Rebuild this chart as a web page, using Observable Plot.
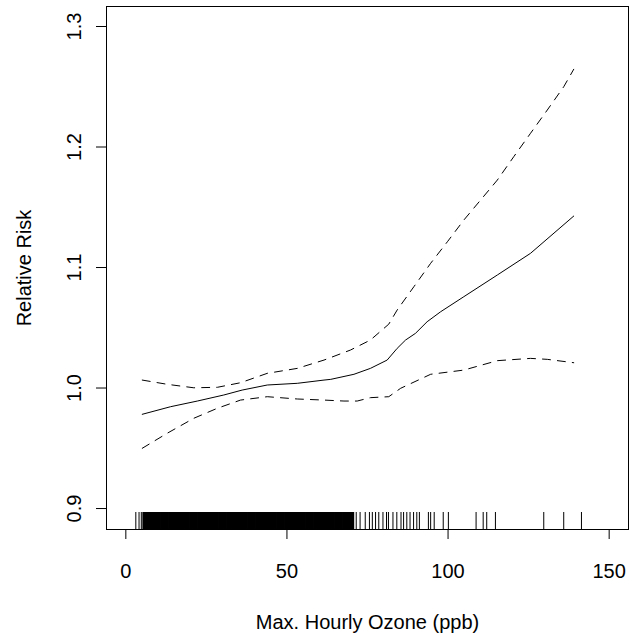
<!DOCTYPE html>
<html><head><meta charset="utf-8">
<script src="https://cdn.jsdelivr.net/npm/d3@7"></script>
<script src="https://cdn.jsdelivr.net/npm/@observablehq/plot@0.6"></script>
<style>body{margin:0;background:#fff} #chart{width:637px;height:637px}</style>
</head><body><div id="chart"></div>
<script>
// Fitted relative risk (solid)
const fitX = [5.1, 13.9, 22.2, 30.4, 36.1, 43.9, 53.2, 61.5, 63.6, 70.8, 75.9, 81.1, 84.2, 86.8, 89.9, 93.5, 97.7, 104.9, 115.3, 125.6, 139.0];
const fitY = [0.9782, 0.9845, 0.9892, 0.9942, 0.9983, 1.0025, 1.0039, 1.0066, 1.0072, 1.0114, 1.0163, 1.0232, 1.0329, 1.0398, 1.0454, 1.055, 1.0633, 1.0758, 1.0938, 1.1118, 1.1427];
// Upper confidence band (dashed)
const upX = [5.1, 12.8, 21.1, 28.4, 35.6, 43.9, 53.2, 61.5, 69.7, 75.9, 81.6, 84.2, 89.4, 94.6, 99.8, 104.9, 110.1, 115.3, 120.4, 125.6, 130.8, 135.9, 139.0];
const upY = [1.0066, 1.0031, 1.0002, 1.0006, 1.0044, 1.0122, 1.0163, 1.0232, 1.0315, 1.0398, 1.053, 1.0647, 1.0841, 1.1035, 1.1214, 1.1394, 1.156, 1.1726, 1.192, 1.2114, 1.2307, 1.25, 1.2645];
// Lower confidence band (dashed)
const loX = [5.1, 12.8, 21.1, 28.4, 35.6, 43.9, 53.2, 61.5, 67.7, 71.8, 75.9, 81.6, 85.3, 94.6, 104.9, 115.3, 125.6, 130.8, 139.0];
const loY = [0.9500, 0.9624, 0.9749, 0.9832, 0.9900, 0.9928, 0.9909, 0.9900, 0.9892, 0.9892, 0.9920, 0.9928, 0.9998, 1.0114, 1.0149, 1.0227, 1.0246, 1.0238, 1.0210];
// Rug: observed ozone values
const rugDense = [5.5,6,6.5,7,7.5,8,8.5,9,9.5,10,10.5,11,11.5,12,12.5,13,13.5,14,14.5,15,15.5,16,16.5,17,17.5,18,18.5,19,19.5,20,20.5,21,21.5,22,22.5,23,23.5,24,24.5,25,25.5,26,26.5,27,27.5,28,28.5,29,29.5,30,30.5,31,31.5,32,32.5,33,33.5,34,34.5,35,35.5,36,36.5,37,37.5,38,38.5,39,39.5,40,40.5,41,41.5,42,42.5,43,43.5,44,44.5,45,45.5,46,46.5,47,47.5,48,48.5,49,49.5,50,50.5,51,51.5,52,52.5,53,53.5,54,54.5,55,55.5,56,56.5,57,57.5,58,58.5,59,59.5,60,60.5,61,61.5,62,62.5,63,63.5,64,64.5,65,65.5,66,66.5,67,67.5,68,68.5,69,69.5,70,70.5];
const rugSparse = [3.1, 4.1, 4.8, 71.5, 72.7, 74.3, 75.6, 76.5, 77.5, 78.5, 79.8, 80.9, 81.5, 82.9, 84.1, 85.4, 86.2, 87.2, 88.2, 89.3, 90.3, 91.1, 93.9, 94.6, 95.7, 98.5, 100.1, 108.7, 110.9, 112.0, 114.7, 129.7, 135.9, 141.4];
const xTicks = [0, 50, 100, 150];
const yTicks = [0.9, 1.0, 1.1, 1.2, 1.3];
const xTitle = "Max. Hourly Ozone (ppb)";
const yTitle = "Relative Risk";

const fit = fitX.map((x, i) => ({x, y: fitY[i]}));
const up = upX.map((x, i) => ({x, y: upY[i]}));
const lo = loX.map((x, i) => ({x, y: loY[i]}));

const chart = Plot.plot({
  width: 637, height: 637,
  marginLeft: 106, marginRight: 9, marginTop: 6, marginBottom: 108,
  style: {fontFamily: "'Liberation Sans', Arial, sans-serif", fontSize: "20px", background: "white", color: "black"},
  x: {domain: [-6, 156]},
  y: {domain: [0.8826, 1.3166]},
  marks: [
    Plot.axisX({ticks: xTicks, tickSize: 10, tickPadding: 24, label: null, tickFormat: d => String(d), fontSize: 20}),
    Plot.axisY({ticks: yTicks, tickSize: 10, tickPadding: 16, tickRotate: -90, textAnchor: "middle", lineAnchor: "bottom", label: null, tickFormat: d => d.toFixed(1), fontSize: 20}),
    Plot.ruleX(rugDense, {x: d => d, insetTop: 506, stroke: "black", strokeWidth: 2.4}),
    Plot.ruleX(rugSparse, {x: d => d, insetTop: 506, stroke: "black", strokeWidth: 1}),
    Plot.line(fit, {x: "x", y: "y", stroke: "black", strokeWidth: 1}),
    Plot.line(up, {x: "x", y: "y", stroke: "black", strokeWidth: 1, strokeDasharray: "8,7"}),
    Plot.line(lo, {x: "x", y: "y", stroke: "black", strokeWidth: 1, strokeDasharray: "8,7"}),
    Plot.frame({stroke: "black", strokeWidth: 1}),
    Plot.text([xTitle], {text: d => d, frameAnchor: "bottom", dy: 99, lineAnchor: "bottom", fontSize: 20, fill: "black"}),
    Plot.text([yTitle], {text: d => d, frameAnchor: "left", dx: -76, rotate: -90, textAnchor: "middle", lineAnchor: "bottom", fontSize: 20, fill: "black"})
  ]
});
document.getElementById("chart").appendChild(chart);
</script>
</body></html>
